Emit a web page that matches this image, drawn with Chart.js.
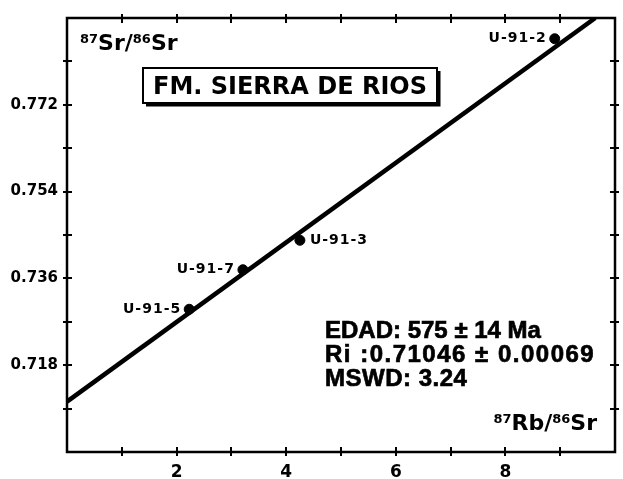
<!DOCTYPE html>
<html>
<head>
<meta charset="utf-8">
<script src="https://cdn.jsdelivr.net/npm/chart.js@4"></script>
<style>
  html, body { margin: 0; background: #fff; }
  #wrap { width: 623px; height: 479px; }
</style>
</head>
<body>
<div id="wrap"><canvas id="c"></canvas></div>
<script>
// samples (87Rb/86Sr vs 87Sr/86Sr)
const sampleNames = ['U-91-2', 'U-91-3', 'U-91-7', 'U-91-5'];
const rbSr = [8.90, 4.25, 3.21, 2.23];
const srSr = [0.7857, 0.7439, 0.7378, 0.7296];
const labelSide = ['left', 'right', 'left', 'left'];

// isochron end points
const isoX = [0, 9.64];
const isoY = [0.71046, 0.790];

// axis ticks
const xTicks = [1, 2, 3, 4, 5, 6, 7, 8, 9];
const xLabels = [2, 4, 6, 8];
const yTicks = [0.709, 0.718, 0.727, 0.736, 0.745, 0.754, 0.763, 0.772, 0.781];
const yLabels = [0.718, 0.736, 0.754, 0.772];

const titleText = 'FM. SIERRA DE RIOS';
const resultLines = ['EDAD: 575 \u00b1 14 Ma', 'Ri :0.71046 \u00b1 0.00069', 'MSWD: 3.24'];
const resultSpacing = ['0px', '1.5px', '0.5px'];

const BOLD = 'bold ';
const SANS = '"Liberation Sans", Arial, sans-serif';
const WIDE = '"DejaVu Sans", sans-serif';

function isotope(ctx, x, y, parts, big, small) {
  let cx = x;
  for (const p of parts) {
    if (p.sup) {
      ctx.font = BOLD + small + 'px ' + WIDE;
      ctx.fillText(p.t, cx, y - big * 0.33);
    } else {
      ctx.font = BOLD + big + 'px ' + WIDE;
      ctx.fillText(p.t, cx, y);
    }
    cx += ctx.measureText(p.t).width;
  }
  return cx - x;
}

const decor = {
  id: 'decor',
  afterDraw(chart) {
    const ctx = chart.ctx;
    const a = chart.chartArea;
    const xs = chart.scales.x, ys = chart.scales.y;
    ctx.save();
    ctx.strokeStyle = '#000';
    ctx.fillStyle = '#000';

    // frame
    ctx.lineWidth = 2.5;
    ctx.strokeRect(a.left, a.top, a.right - a.left, a.bottom - a.top);

    // crossing tick marks on all four sides
    ctx.lineWidth = 2;
    ctx.beginPath();
    for (const v of xTicks) {
      const px = Math.round(xs.getPixelForValue(v));
      ctx.moveTo(px, a.bottom - 5); ctx.lineTo(px, a.bottom + 4);
      ctx.moveTo(px, a.top - 4); ctx.lineTo(px, a.top + 5);
    }
    for (const v of yTicks) {
      const py = Math.round(ys.getPixelForValue(v));
      ctx.moveTo(a.left - 4, py); ctx.lineTo(a.left + 5, py);
      ctx.moveTo(a.right - 5, py); ctx.lineTo(a.right + 4, py);
    }
    ctx.stroke();

    // sample labels
    ctx.font = BOLD + '14px ' + WIDE;
    ctx.textBaseline = 'middle';
    ctx.letterSpacing = '1px';
    for (let i = 0; i < sampleNames.length; i++) {
      const px = xs.getPixelForValue(rbSr[i]);
      const py = ys.getPixelForValue(srSr[i]);
      if (labelSide[i] === 'left') {
        ctx.textAlign = 'right';
        ctx.fillText(sampleNames[i], px - 8, py);
      } else {
        ctx.textAlign = 'left';
        ctx.fillText(sampleNames[i], px + 10, py);
      }
    }
    ctx.letterSpacing = '0px';

    // axis titles
    ctx.textAlign = 'left';
    ctx.textBaseline = 'alphabetic';
    isotope(ctx, a.left + 13, a.top + 32,
      [{t: '87', sup: true}, {t: 'Sr'}, {t: '/'}, {t: '86', sup: true}, {t: 'Sr'}], 22, 13);
    const rbParts = [{t: '87', sup: true}, {t: 'Rb'}, {t: '/'}, {t: '86', sup: true}, {t: 'Sr'}];
    ctx.globalAlpha = 0;
    const w = isotope(ctx, 0, -100, rbParts, 22, 13);
    ctx.globalAlpha = 1;
    isotope(ctx, a.right - 18 - w, a.bottom - 22, rbParts, 22, 13);

    // title box with drop shadow
    const bx = 143, by = 68, bw = 294, bh = 35;
    ctx.lineWidth = 2;
    ctx.strokeRect(bx, by, bw, bh);
    ctx.lineWidth = 3;
    ctx.beginPath();
    ctx.moveTo(bx + 3, by + bh + 2); ctx.lineTo(bx + bw + 2, by + bh + 2); ctx.lineTo(bx + bw + 2, by + 3);
    ctx.stroke();
    ctx.font = BOLD + '24px ' + WIDE;
    ctx.textAlign = 'center';
    ctx.fillText(titleText, bx + bw / 2, by + 26);

    // regression results (slight stroke to get the heavy print look)
    ctx.textAlign = 'left';
    ctx.font = BOLD + '24px ' + SANS;
    ctx.lineWidth = 0.7;
    const base = [338, 362, 386];
    resultLines.forEach((t, i) => {
      ctx.letterSpacing = resultSpacing[i];
      ctx.fillText(t, 325, base[i]);
      ctx.strokeText(t, 325, base[i]);
    });
    ctx.restore();
  }
};

new Chart(document.getElementById('c'), {
  type: 'scatter',
  data: {
    datasets: [
      {
        label: 'isocrona',
        data: isoX.map((x, i) => ({x, y: isoY[i]})),
        showLine: true,
        borderColor: '#000',
        borderWidth: 4.5,
        pointRadius: 0,
        order: 2
      },
      {
        label: 'muestras',
        data: rbSr.map((x, i) => ({x, y: srSr[i]})),
        backgroundColor: '#000',
        borderColor: '#000',
        pointRadius: 5,
        order: 1
      }
    ]
  },
  options: {
    responsive: true,
    maintainAspectRatio: false,
    animation: false,
    layout: { padding: { top: 11, right: 8, left: 0, bottom: 0 } },
    plugins: { legend: { display: false }, tooltip: { enabled: false } },
    scales: {
      x: {
        type: 'linear',
        min: 0, max: 10,
        grid: { display: false, drawTicks: false },
        border: { display: false },
        afterBuildTicks: s => { s.ticks = xLabels.map(v => ({value: v})); },
        afterFit: s => { s.height = 27; },
        ticks: {
          color: '#000',
          padding: 10,
          font: { family: WIDE, weight: 'bold', size: 17 },
          callback: v => String(v)
        }
      },
      y: {
        type: 'linear',
        min: 0.700, max: 0.790,
        grid: { display: false, drawTicks: false },
        border: { display: false },
        afterBuildTicks: s => { s.ticks = yLabels.map(v => ({value: v})); },
        afterFit: s => { s.width = 67; },
        ticks: {
          color: '#000',
          padding: 9,
          font: { family: WIDE, weight: 'bold', size: 15 },
          callback: v => v.toFixed(3)
        }
      }
    }
  },
  plugins: [decor]
});
</script>
</body>
</html>
